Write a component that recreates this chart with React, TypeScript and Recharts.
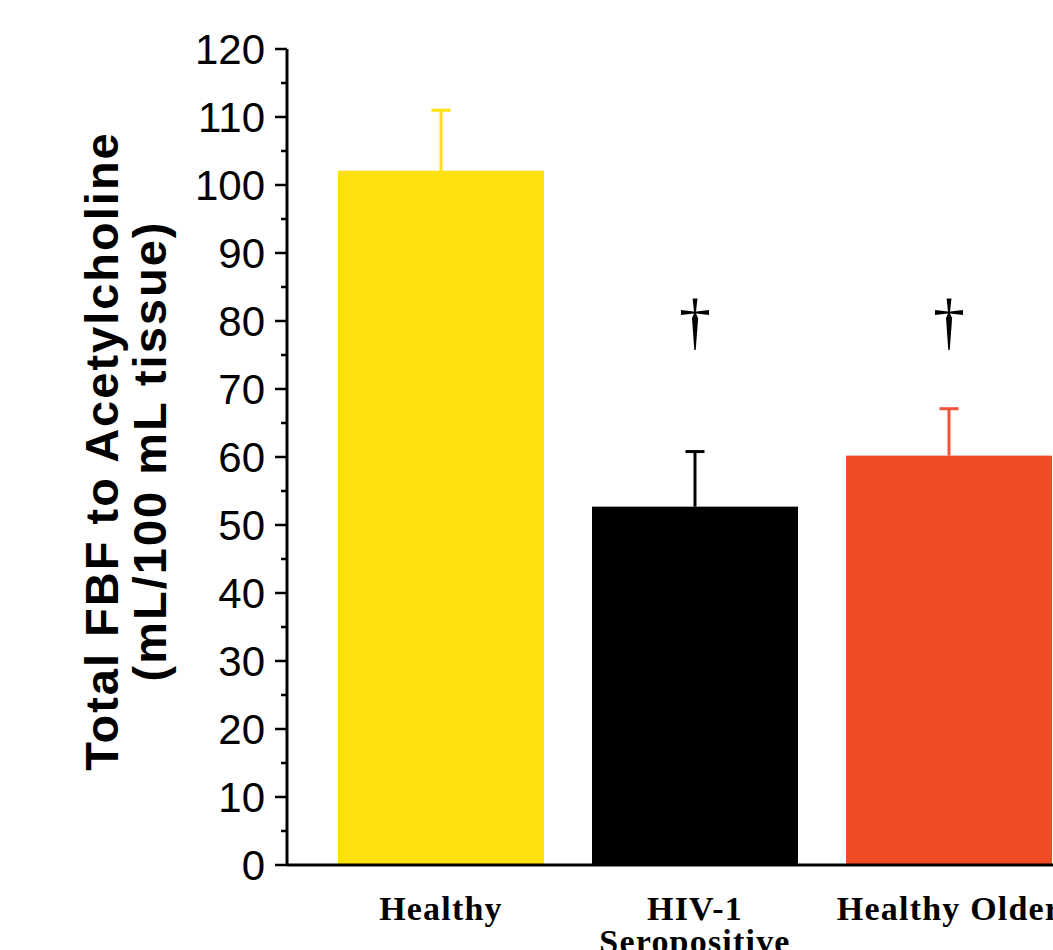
import { Bar, BarChart, Cell, Label, ReferenceDot, XAxis, YAxis } from "recharts";

const groups = ["Healthy", "HIV-1 Seropositive", "Healthy Older"];
const groupLines = [["Healthy"], ["HIV-1", "Seropositive"], ["Healthy Older"]];
const means = [102.1, 52.7, 60.2];
const sems = [8.9, 8.1, 6.9];
const barColors = ["#fde10e", "#000000", "#f04b24"];
const errColors = ["#fde10e", "#000000", "#f0523a"];
const daggerGroups = ["HIV-1 Seropositive", "Healthy Older"];
const daggerLevel = 80;
const yTicks = [0, 5, 10, 15, 20, 25, 30, 35, 40, 45, 50, 55, 60, 65, 70, 75, 80, 85, 90, 95, 100, 105, 110, 115, 120];

const data = groups.map((g, i) => ({ group: g, mean: means[i], sem: sems[i] }));

const sans = "'Liberation Sans', Arial, Helvetica, sans-serif";
const serif = "'Liberation Serif', 'Times New Roman', serif";

function YTick(props: any) {
  const { x, y, payload } = props;
  const major = payload.value % 10 === 0;
  return (
    <g>
      <line x1={x - (major ? 12 : 6)} x2={x} y1={y} y2={y} stroke="#000" strokeWidth={2.5} />
      {major && (
        <text x={x - 22} y={y} dy="0.36em" textAnchor="end" fontFamily={sans} fontSize={42} fill="#000">
          {payload.value}
        </text>
      )}
    </g>
  );
}

function XTick(props: any) {
  const { x, y, index } = props;
  const lines = groupLines[index] || [];
  return (
    <g>
      {lines.map((l, i) => (
        <text key={i} x={x} y={y + 47 + i * 33} textAnchor="middle" fontFamily={serif} fontWeight="bold" fontSize={34} letterSpacing={1.2} fill="#000">
          {l}
        </text>
      ))}
    </g>
  );
}

function BarWithError(props: any) {
  const { x, y, width, height, fill, payload, index } = props;
  const pxPerUnit = height / payload.mean;
  const top = y - payload.sem * pxPerUnit;
  const cx = x + width / 2;
  const ec = errColors[index];
  return (
    <g>
      <line x1={cx} x2={cx} y1={y} y2={top} stroke={ec} strokeWidth={3} />
      <line x1={cx - 9.5} x2={cx + 9.5} y1={top} y2={top} stroke={ec} strokeWidth={3} />
      <rect x={x} y={y} width={width} height={height} fill={fill} />
    </g>
  );
}

function YLabel(props: any) {
  const vb = props.viewBox;
  const cy = vb.y + vb.height / 2 - 6;
  return (
    <g fontFamily={sans} fontWeight="bold" fontSize={47} letterSpacing={2} fill="#000">
      <text x={118} y={cy} textAnchor="middle" transform={`rotate(-90 118 ${cy})`}>
        Total FBF to Acetylcholine
      </text>
      <text x={166} y={cy} textAnchor="middle" transform={`rotate(-90 166 ${cy})`}>
        (mL/100 mL tissue)
      </text>
    </g>
  );
}

export default function App() {
  return (
    <div style={{ position: "absolute", left: 0, top: 0, width: 1053, height: 950, overflow: "hidden", background: "#fff" }}>
      <BarChart width={1080} height={950} data={data} margin={{ top: 49, right: 4, bottom: 0, left: 0 }} barSize={206}>
        <XAxis
          dataKey="group"
          height={85}
          padding={{ left: 27, right: 0 }}
          axisLine={{ stroke: "#000", strokeWidth: 3 }}
          tickLine={false}
          tick={<XTick />}
          interval={0}
        />
        <YAxis
          width={287}
          domain={[0, 120]}
          ticks={yTicks}
          interval={0}
          tickSize={0}
          tickMargin={0}
          tickLine={false}
          axisLine={{ stroke: "#000", strokeWidth: 3 }}
          tick={<YTick />}
        >
          <Label content={<YLabel />} />
        </YAxis>
        <Bar dataKey="mean" isAnimationActive={false} shape={<BarWithError />}>
          {data.map((d, i) => (
            <Cell key={d.group} fill={barColors[i]} />
          ))}
        </Bar>
        {daggerGroups.map((g) => (
          <ReferenceDot
            key={g}
            x={g}
            y={daggerLevel}
            shape={(p: any) => (
              <text x={p.cx} y={p.cy} dy="0.35em" textAnchor="middle" fontFamily={serif} fontSize={64} fill="#000">
                †
              </text>
            )}
          />
        ))}
      </BarChart>
    </div>
  );
}
